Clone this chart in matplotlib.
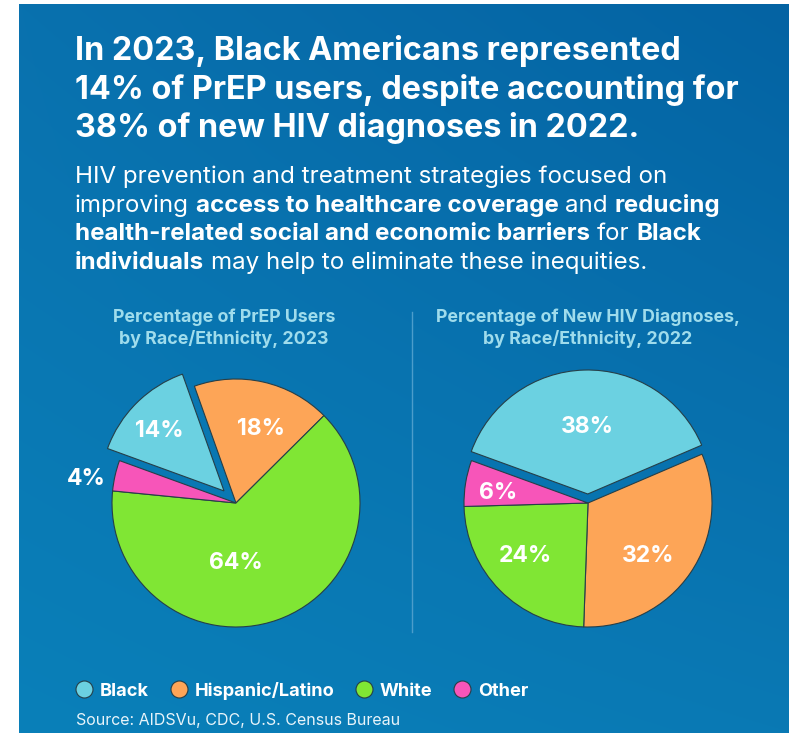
import numpy as np
import matplotlib.pyplot as plt
from matplotlib.colors import to_rgb

races = ['Black', 'Hispanic/Latino', 'White', 'Other']
prep_users_2023 = [14, 18, 64, 4]
new_diagnoses_2022 = [38, 32, 24, 6]
race_colors = ['#6bd1e1', '#fda557', '#80e634', '#f755b9']

headline = ['In 2023, Black Americans represented',
            '14% of PrEP users, despite accounting for',
            '38% of new HIV diagnoses in 2022.']
body = [
    [('HIV prevention and treatment strategies focused on', False)],
    [('improving', False), ('access to healthcare coverage', True),
     ('and', False), ('reducing', True)],
    [('health-related social and economic barriers', True), ('for', False),
     ('Black', True)],
    [('individuals', True), ('may help to eliminate these inequities.', False)],
]
left_title = ['Percentage of PrEP Users', 'by Race/Ethnicity, 2023']
right_title = ['Percentage of New HIV Diagnoses,', 'by Race/Ethnicity, 2022']
source = 'Source: AIDSVu, CDC, U.S. Census Bureau'

W, H = 789, 733
FONT = 'Inter'

fig = plt.figure(figsize=(W / 100, H / 100), dpi=100)
ax = fig.add_axes([0, 0, 1, 1])
renderer = fig.canvas.get_renderer()


def Y(row):
    # rows counted from the top of the image
    return H - row


# blue gradient panel
tl, tr = np.array(to_rgb('#0971ae')), np.array(to_rgb('#0463a3'))
bl, br = np.array(to_rgb('#0a80b9')), np.array(to_rgb('#0a79b4'))
u = np.linspace(0, 1, 200)[None, :, None]
v = np.linspace(0, 1, 200)[:, None, None]
grad = (1 - v) * ((1 - u) * tl + u * tr) + v * ((1 - u) * bl + u * br)
ax.imshow(grad, extent=(19, W, 0, Y(4)), aspect='auto', zorder=0,
          interpolation='bilinear')

# headline
for i, line in enumerate(headline):
    ax.text(75, Y(60 + 38.5 * i), line, fontsize=23.3, fontweight='bold',
            family=FONT, color='white', va='baseline', ha='left')


def text_width(s, **kw):
    t = ax.text(0, 0, s, **kw)
    w = t.get_window_extent(renderer).width
    t.remove()
    return w


# body paragraph with bold runs
body_kw = dict(fontsize=17.4, family=FONT, color='white', va='baseline', ha='left')
space = text_width('x x', **body_kw) - text_width('xx', **body_kw)
for i, runs in enumerate(body):
    x = 75
    for s, bold in runs:
        t = ax.text(x, Y(183 + 28.7 * i), s,
                    fontweight='bold' if bold else 'normal', **body_kw)
        x += t.get_window_extent(renderer).width + space

# chart titles
for cx, lines in [(224, left_title), (588, right_title)]:
    for i, line in enumerate(lines):
        ax.text(cx, Y(322 + 22 * i), line, fontsize=12.8, fontweight='bold',
                family=FONT, color='#9fdcec', va='baseline', ha='center')

# divider between the two pies
ax.plot([412, 412], [Y(312), Y(632)], color='#4c9dcb', lw=1, zorder=1)

# pies: explode is in data units (pixels here)
pies = [
    (prep_users_2023, (236, Y(503)), 17,
     [(137, 0.71), (71, 0.63), (-90, 0.48), (171, 1.22)]),
    (new_diagnoses_2022, (588, Y(503)), 9,
     [(90, 0.54), (-41.5, 0.65), (220, 0.66), (173.7, 0.73)]),
]
R = 124
for values, center, pull, label_pos in pies:
    wedges, _ = ax.pie(values, colors=race_colors, startangle=160,
                       counterclock=False, radius=R, center=center,
                       explode=[pull, 0, 0, 0], frame=True,
                       wedgeprops=dict(edgecolor='#263f48', linewidth=0.8))
    for w, v, (ang, d) in zip(wedges, values, label_pos):
        cx, cy = w.center
        a = np.deg2rad(ang)
        ax.text(cx + d * R * np.cos(a), cy + d * R * np.sin(a), f'{v}%',
                fontsize=16.5, fontweight='bold', family=FONT, color='white',
                ha='center', va='center', zorder=5)

# legend
leg_kw = dict(fontsize=13.1, fontweight='bold', family=FONT, color='white',
              va='baseline', ha='left')
x = 76
for name, c in zip(races, race_colors):
    ax.scatter([x + 8.5], [Y(689)], s=150, color=c, edgecolor='#263f48',
               linewidth=0.8, zorder=5)
    t = ax.text(x + 24, Y(696), name, **leg_kw)
    x += 24 + t.get_window_extent(renderer).width + 21.5

ax.text(76, Y(725), source, fontsize=11.5, family=FONT, color='#e8f4fa',
        va='baseline', ha='left')

ax.set_xlim(0, W)
ax.set_ylim(0, H)
ax.set_aspect('equal')
ax.axis('off')
fig.savefig('out.png', dpi=100, facecolor='white')
